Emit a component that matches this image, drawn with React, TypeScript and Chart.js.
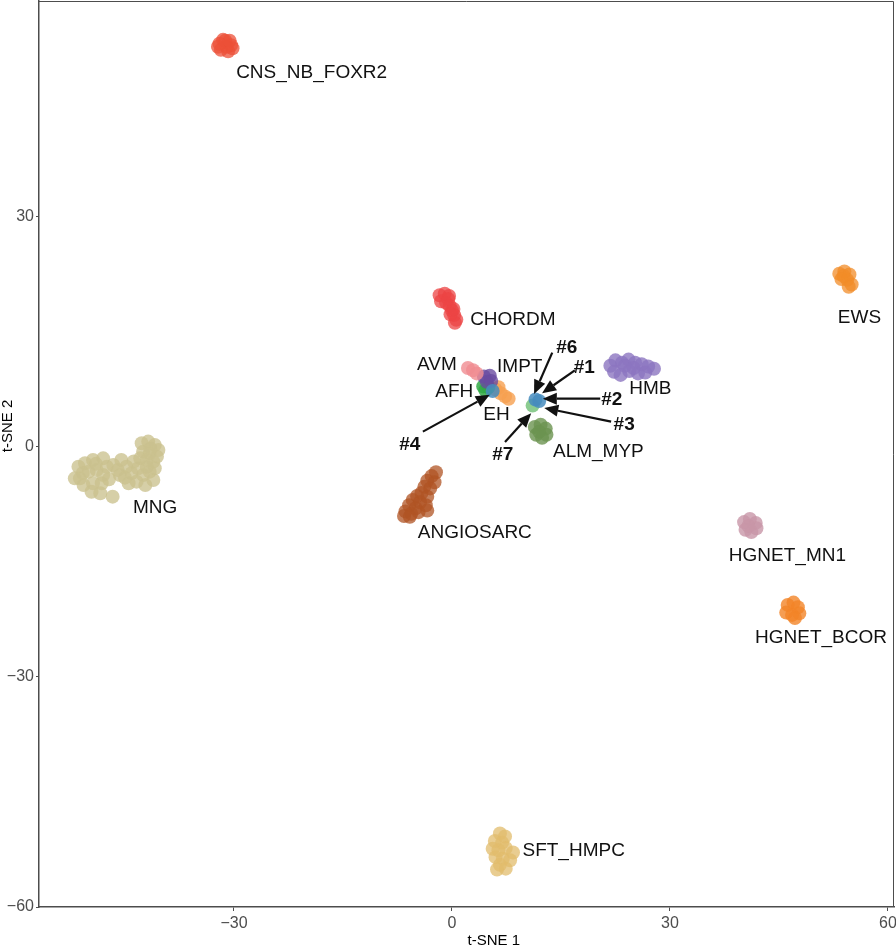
import React, { useEffect, useRef } from "react";
import { Chart, registerables } from "chart.js";

Chart.register(...registerables);

const FONT = "'Liberation Sans', Arial, Helvetica, sans-serif";

// Axis settings
const xTicks = [-30, 0, 30, 60];
const yTicks = [-60, -30, 0, 30];
const X_MIN = -56.83;
const X_MAX = 60.83;
const Y_MIN = -60;
const Y_MAX = 58.17;
const xTitle = "t-SNE 1";
const yTitle = "t-SNE 2";

// Cluster points (t-SNE coordinates)
const cnsX = [-32.0, -31.2, -30.4, -31.8, -30.8, -31.0, -30.2, -31.5, -32.2, -30.6];
const cnsY = [52.6, 53.0, 52.4, 51.8, 51.6, 52.2, 52.0, 53.1, 52.2, 53.0];

const chordmX = [-1.7, -1.0, -0.4, -1.5, -0.8, -0.3, 0.0, 0.3, 0.6, 0.4, -0.5, 0.2, -0.2];
const chordmY = [19.8, 20.0, 19.7, 19.0, 18.8, 18.4, 17.8, 17.2, 16.6, 16.2, 19.3, 18.0, 17.3];

const ewsX = [53.3, 54.0, 54.7, 53.6, 54.4, 55.0, 54.6, 53.9];
const ewsY = [22.6, 22.9, 22.5, 21.9, 21.8, 21.2, 20.9, 22.3];

const hmbX = [21.8, 22.5, 23.4, 24.3, 25.2, 26.1, 27.0, 27.8, 22.3, 23.2, 24.4, 25.6, 26.6, 23.8, 25.0];
const hmbY = [10.6, 11.3, 11.0, 11.4, 11.0, 10.8, 10.5, 10.2, 9.8, 9.4, 9.9, 9.6, 9.7, 10.6, 10.3];

const avmX = [2.2, 2.9, 3.4];
const avmY = [10.3, 10.0, 9.6];

const imptX = [4.4, 5.2, 4.8, 5.4];
const imptY = [9.2, 9.3, 8.5, 8.6];

const afhX = [4.3, 4.6, 5.0];
const afhY = [7.9, 7.4, 7.8];

const ehX = [6.0, 6.7, 7.3, 7.8, 6.4];
const ehY = [7.5, 7.0, 6.6, 6.3, 7.8];

const almX = [11.4, 12.2, 12.9, 11.6, 12.4, 13.0, 12.0];
const almY = [2.6, 2.9, 2.4, 1.6, 1.2, 1.6, 2.0];

const mngX = [
  -42.7, -41.8, -40.9, -40.4, -42.5, -41.6, -40.6, -42.9, -42.0, -41.1,
  -46.6, -45.5, -44.8, -44.1, -45.7, -43.2, -42.5, -41.6, -41.1, -43.4, -44.5, -42.2, -40.9,
  -51.4, -50.5, -49.4, -48.0, -51.2, -50.0, -48.9, -48.0, -51.9, -50.7, -49.4, -48.2, -49.6, -48.4, -47.5,
  -46.7,
  -46.0, -47.2, -49.0, -50.8, -43.8, -42.0, -41.5, -45.0,
];
const mngY = [
  0.48, 0.7, 0.26, -0.39, -0.61, -0.83, -1.26, -1.48, -1.7, -1.91,
  -2.35, -1.7, -2.57, -3.43, -3.65, -2.78, -3.65, -3.22, -4.3, -4.52, -4.73, -4.96, -2.78,
  -2.57, -2.13, -1.7, -1.48, -4.09, -3.22, -3.0, -3.65, -4.09, -4.96, -4.73, -4.73, -5.83, -6.04, -2.57,
  -6.48,
  -3.0, -4.2, -2.2, -3.4, -1.9, -2.6, -0.2, -4.0,
];

const angioX = [-2.2, -2.8, -2.4, -3.4, -3.0, -3.8, -4.2, -3.4, -4.8, -5.4, -4.4, -3.6, -5.9, -5.0, -6.4, -5.6, -4.6, -6.6, -5.8, -3.4];
const angioY = [-3.3, -3.8, -4.6, -4.4, -5.4, -5.2, -6.0, -6.5, -6.4, -6.9, -7.2, -7.6, -7.6, -8.0, -8.4, -8.7, -8.5, -9.0, -9.1, -8.3];

const mn1X = [40.2, 41.0, 41.8, 40.4, 41.2, 41.9, 40.8];
const mn1Y = [-9.8, -9.4, -9.9, -10.8, -11.1, -10.6, -10.3];

const bcorX = [46.2, 47.0, 47.6, 46.0, 46.8, 47.8, 47.2];
const bcorY = [-20.6, -20.3, -20.9, -21.6, -21.9, -21.7, -22.3];

const sftX = [6.6, 7.3, 5.9, 6.9, 5.6, 6.4, 7.4, 8.4, 6.0, 7.0, 8.0, 6.6, 7.4, 6.2];
const sftY = [-50.4, -50.8, -51.4, -51.6, -52.4, -52.6, -52.3, -52.9, -53.5, -53.7, -53.9, -54.5, -55.0, -55.1];

// Query samples
const sampleBlueX = [5.6, 11.5, 12.0];
const sampleBlueY = [7.3, 6.2, 6.0];
const sampleGreenX = [11.1];
const sampleGreenY = [5.4];

const clusterNames = [
  "CNS_NB_FOXR2", "CHORDM", "EWS", "HMB", "AVM", "IMPT", "AFH", "EH",
  "ALM_MYP", "MNG", "ANGIOSARC", "HGNET_MN1", "HGNET_BCOR", "SFT_HMPC",
];
const clusterXs = [cnsX, chordmX, ewsX, hmbX, avmX, imptX, afhX, ehX, almX, mngX, angioX, mn1X, bcorX, sftX];
const clusterYs = [cnsY, chordmY, ewsY, hmbY, avmY, imptY, afhY, ehY, almY, mngY, angioY, mn1Y, bcorY, sftY];
const clusterColors = [
  "rgba(236,80,56,0.75)",
  "rgba(236,68,68,0.75)",
  "rgba(242,140,40,0.75)",
  "rgba(140,118,192,0.8)",
  "rgba(240,140,145,0.8)",
  "rgba(105,75,160,0.8)",
  "rgba(50,170,70,0.85)",
  "rgba(246,160,80,0.8)",
  "rgba(108,148,80,0.8)",
  "rgba(203,194,142,0.78)",
  "rgba(176,84,36,0.75)",
  "rgba(200,150,168,0.8)",
  "rgba(242,132,40,0.8)",
  "rgba(226,188,108,0.75)",
];

// Cluster label anchors (left edge, vertical middle) in data units
const labelText = clusterNames;
const labelX = [-29.7, 2.5, 53.1, 24.4, -4.8, 6.2, -2.3, 4.3, 13.9, -43.9, -4.7, 38.1, 41.7, 9.7];
const labelY = [48.8, 16.6, 16.8, 7.6, 10.7, 10.4, 7.2, 4.2, -0.65, -7.9, -11.2, -14.2, -24.9, -52.7];

// Sample annotation labels (centre) and arrows (tail -> head), data units
const sampleLabels = ["#6", "#1", "#2", "#3", "#4", "#7"];
const sampleLabelX = [15.8, 18.2, 22.0, 23.7, -5.8, 7.0];
const sampleLabelY = [12.9, 10.3, 6.1, 2.9, 0.26, -1.04];
const arrowTailX = [13.8, 16.9, 20.4, 21.9, -4.0, 7.3];
const arrowTailY = [12.3, 10.0, 6.3, 3.3, 2.0, 0.65];
const arrowHeadX = [11.3, 12.4, 12.5, 12.7, 5.2, 10.9];
const arrowHeadY = [6.9, 7.0, 6.3, 5.1, 6.8, 4.4];

const toPoints = (xs: number[], ys: number[]) => xs.map((x, i) => ({ x, y: ys[i] }));

const annotationPlugin = {
  id: "annotations",
  afterDatasetsDraw(chart: any) {
    const { ctx, chartArea, scales } = chart;
    const xs = scales.x;
    const ys = scales.y;
    ctx.save();
    // panel border (top/right)
    ctx.strokeStyle = "#4d4d4d";
    ctx.lineWidth = 1;
    ctx.beginPath();
    ctx.moveTo(chartArea.left, chartArea.top + 0.5);
    ctx.lineTo(chartArea.right - 0.5, chartArea.top + 0.5);
    ctx.lineTo(chartArea.right - 0.5, chartArea.bottom);
    ctx.stroke();

    // cluster labels
    ctx.fillStyle = "#111111";
    ctx.font = `19px ${FONT}`;
    ctx.textAlign = "left";
    ctx.textBaseline = "middle";
    labelText.forEach((t, i) => {
      ctx.fillText(t, xs.getPixelForValue(labelX[i]), ys.getPixelForValue(labelY[i]));
    });

    // arrows
    ctx.strokeStyle = "#111111";
    ctx.fillStyle = "#111111";
    ctx.lineWidth = 2.2;
    arrowTailX.forEach((_, i) => {
      const x1 = xs.getPixelForValue(arrowTailX[i]);
      const y1 = ys.getPixelForValue(arrowTailY[i]);
      const x2 = xs.getPixelForValue(arrowHeadX[i]);
      const y2 = ys.getPixelForValue(arrowHeadY[i]);
      const ang = Math.atan2(y2 - y1, x2 - x1);
      const hl = 14;
      const hw = 6;
      const bx = x2 - hl * Math.cos(ang);
      const by = y2 - hl * Math.sin(ang);
      ctx.beginPath();
      ctx.moveTo(x1, y1);
      ctx.lineTo(bx, by);
      ctx.stroke();
      ctx.beginPath();
      ctx.moveTo(x2, y2);
      ctx.lineTo(bx + hw * Math.sin(ang), by - hw * Math.cos(ang));
      ctx.lineTo(bx - hw * Math.sin(ang), by + hw * Math.cos(ang));
      ctx.closePath();
      ctx.fill();
    });

    // sample labels
    ctx.font = `bold 19px ${FONT}`;
    ctx.textAlign = "center";
    sampleLabels.forEach((t, i) => {
      ctx.fillText(t, xs.getPixelForValue(sampleLabelX[i]), ys.getPixelForValue(sampleLabelY[i]));
    });

    // axis titles
    ctx.fillStyle = "#000000";
    ctx.font = `15px ${FONT}`;
    ctx.textAlign = "center";
    ctx.textBaseline = "middle";
    ctx.fillText(xTitle, chartArea.left + (chartArea.right - chartArea.left) * 0.532, chart.height - 8);
    ctx.save();
    ctx.translate(8, chartArea.top + (chartArea.bottom - chartArea.top) * 0.469);
    ctx.rotate(-Math.PI / 2);
    ctx.fillText(yTitle, 0, 0);
    ctx.restore();
    ctx.restore();
  },
};

const fmt = (v: number) => (v < 0 ? "\u2212" + Math.abs(v) : String(v));

export default function App() {
  const ref = useRef<HTMLCanvasElement | null>(null);
  useEffect(() => {
    document.body.style.margin = "0";
    if (!ref.current) return;
    const datasets: any[] = clusterNames.map((name, i) => ({
      label: name,
      data: toPoints(clusterXs[i], clusterYs[i]),
      backgroundColor: clusterColors[i],
      borderWidth: 0,
      pointRadius: 7,
      order: 1,
    }));
    datasets.push({
      label: "samples",
      data: toPoints(sampleBlueX, sampleBlueY),
      backgroundColor: "rgba(70,140,190,0.85)",
      borderWidth: 0,
      pointRadius: 7,
      order: 0,
    });
    datasets.push({
      label: "sample7",
      data: toPoints(sampleGreenX, sampleGreenY),
      backgroundColor: "rgba(120,195,125,0.85)",
      borderWidth: 0,
      pointRadius: 7,
      order: 0,
    });
    const chart = new Chart(ref.current, {
      type: "scatter",
      data: { datasets },
      plugins: [annotationPlugin],
      options: {
        animation: false,
        responsive: false,
        devicePixelRatio: 1,
        layout: { autoPadding: false, padding: { top: 1, right: 2, left: 0, bottom: 0 } },
        plugins: { legend: { display: false }, tooltip: { enabled: false } },
        scales: {
          x: {
            type: "linear",
            min: X_MIN,
            max: X_MAX,
            afterBuildTicks: (s: any) => {
              s.ticks = xTicks.map((v) => ({ value: v }));
            },
            afterFit: (s: any) => {
              s.height = 42;
              s.paddingLeft = 0;
              s.paddingRight = 0;
            },
            ticks: {
              color: "#4d4d4d",
              font: { size: 16, family: FONT },
              padding: 3,
              maxRotation: 0,
              autoSkip: false,
              callback: (v: any) => fmt(Number(v)),
            },
            grid: { drawOnChartArea: false, drawTicks: true, tickLength: 4, color: "#4d4d4d" },
            border: { display: true, color: "#4d4d4d", width: 1.5 },
          },
          y: {
            type: "linear",
            min: Y_MIN,
            max: Y_MAX,
            afterBuildTicks: (s: any) => {
              s.ticks = yTicks.map((v) => ({ value: v }));
            },
            afterFit: (s: any) => {
              s.width = 39;
              s.paddingTop = 0;
              s.paddingBottom = 0;
            },
            ticks: {
              color: "#4d4d4d",
              font: { size: 16, family: FONT },
              padding: 2,
              autoSkip: false,
              callback: (v: any) => fmt(Number(v)),
            },
            grid: { drawOnChartArea: false, drawTicks: true, tickLength: 3, color: "#4d4d4d" },
            border: { display: true, color: "#4d4d4d", width: 1.5 },
          },
        },
      },
    } as any);
    return () => chart.destroy();
  }, []);
  return (
    <div style={{ position: "absolute", left: 0, top: 0, width: 896, height: 949 }}>
      <canvas ref={ref} width={896} height={949} style={{ width: 896, height: 949 }} />
    </div>
  );
}
